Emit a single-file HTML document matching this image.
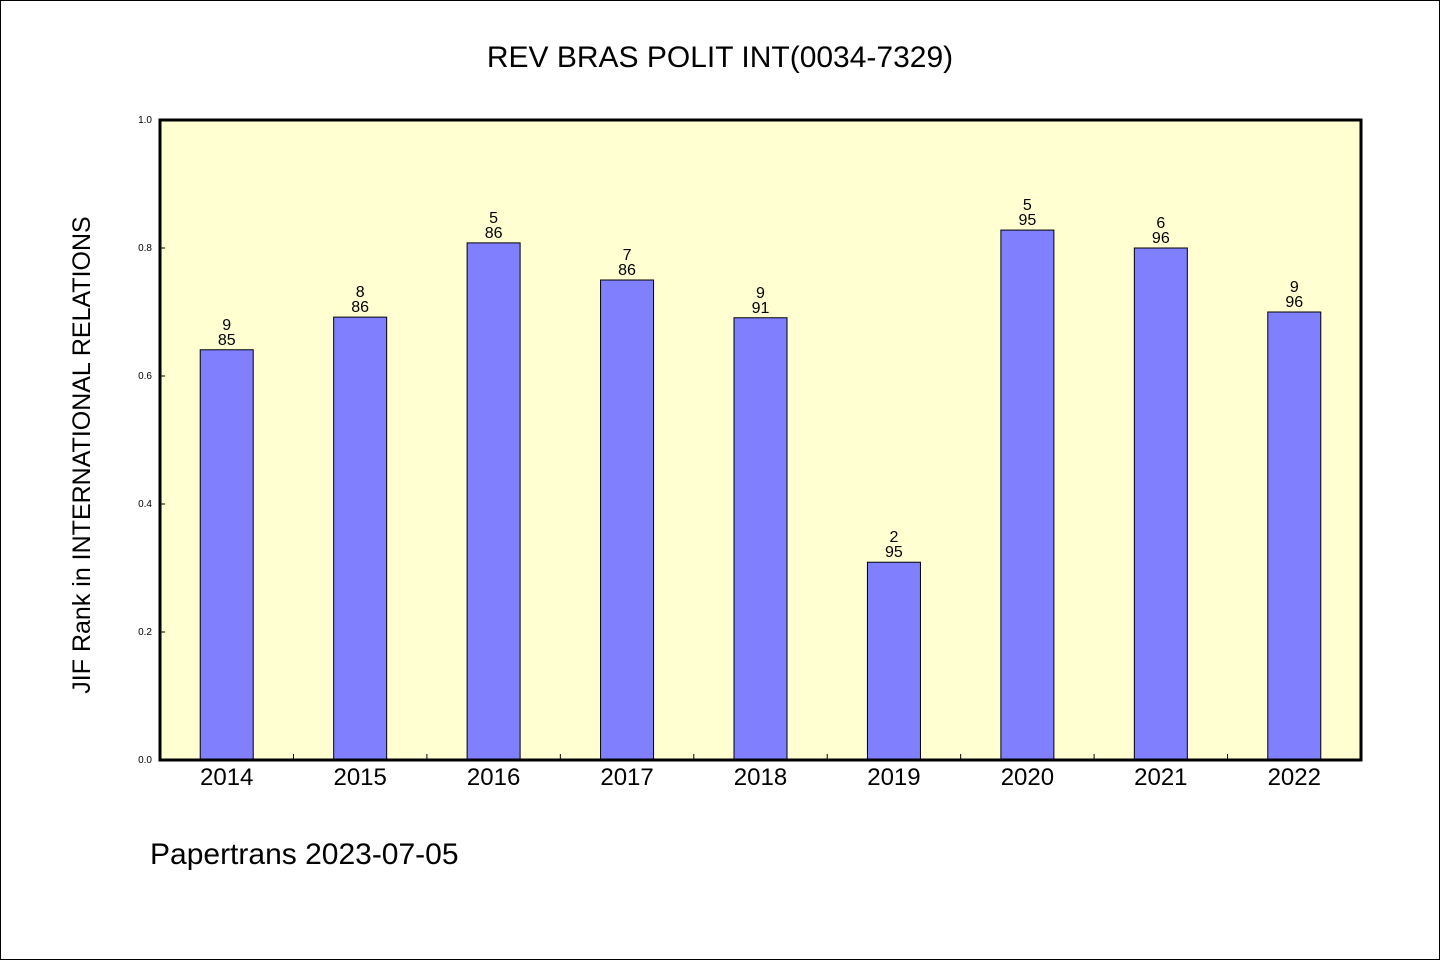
<!DOCTYPE html>
<html><head><meta charset="utf-8"><style>
html,body{margin:0;padding:0;background:#fff}
svg{display:block}
text{font-family:"WenQuanYi Zen Hei","Liberation Sans",sans-serif}
</style></head><body>
<svg id="chart" width="1440" height="960">
<rect x="0.5" y="0.5" width="1439" height="959" fill="#fff" stroke="#000"/>
<text x="720" y="67" text-anchor="middle" font-size="30">REV BRAS POLIT INT(0034-7329)</text>
<rect x="160" y="120" width="1201" height="640" fill="#ffffd2"/>
<g id="bars"></g>
<g id="axes"></g>
<rect x="160" y="120" width="1201" height="640" fill="none" stroke="#000" stroke-width="3"/>
<text transform="translate(90,455) rotate(-90)" text-anchor="middle" font-size="25">JIF Rank in INTERNATIONAL RELATIONS</text>
<text x="150" y="864" font-size="30">Papertrans 2023-07-05</text>
</svg>
<script>
const categories=["2014","2015","2016","2017","2018","2019","2020","2021","2022"];
const values=[0.641,0.692,0.808,0.75,0.691,0.309,0.828,0.8,0.7];
const ranks=["9","8","5","7","9","2","5","6","9"];
const totals=["85","86","86","86","91","95","95","96","96"];
const yTicks=[0,0.2,0.4,0.6,0.8,1.0];
const NS="http://www.w3.org/2000/svg";
const X0=160,W=1201,Y0=760,H=640;
const slot=W/categories.length;
function xc(i){return X0+slot*(i+0.5);}
function y(v){return Y0-v*H;}
function mk(t,a,p){const e=document.createElementNS(NS,t);for(const k in a)e.setAttribute(k,a[k]);p.appendChild(e);return e;}
const bars=document.getElementById('bars'),axes=document.getElementById('axes');
categories.forEach((c,i)=>{
 const bw=53;
 const r=mk('rect',{x:xc(i)-bw/2,y:y(values[i]),width:bw,height:Y0-y(values[i]),fill:'#8080ff',stroke:'#000','stroke-width':1},bars);
 
 
 const t1=mk('text',{x:xc(i),y:y(values[i])-20,'text-anchor':'middle','font-size':16},bars);t1.textContent=ranks[i];
 
 
 const t2=mk('text',{x:xc(i),y:y(values[i])-5,'text-anchor':'middle','font-size':16},bars);t2.textContent=totals[i];
 
 
 const xl=mk('text',{x:xc(i),y:785,'text-anchor':'middle','font-size':24},axes);xl.textContent=c;
 
 
 if(i>0){const tk=mk('line',{x1:X0+slot*i,x2:X0+slot*i,y1:Y0,y2:Y0-6,stroke:'#000'},axes);
 
 }
});
yTicks.forEach(v=>{
 const tk=mk('line',{x1:X0,x2:X0+5,y1:y(v),y2:y(v),stroke:'#000'},axes);
 
 
 const l=mk('text',{x:152,y:y(v)+3,'text-anchor':'end','font-size':10},axes);l.textContent=v.toFixed(1);
 
 
});
</script>
</body></html>
